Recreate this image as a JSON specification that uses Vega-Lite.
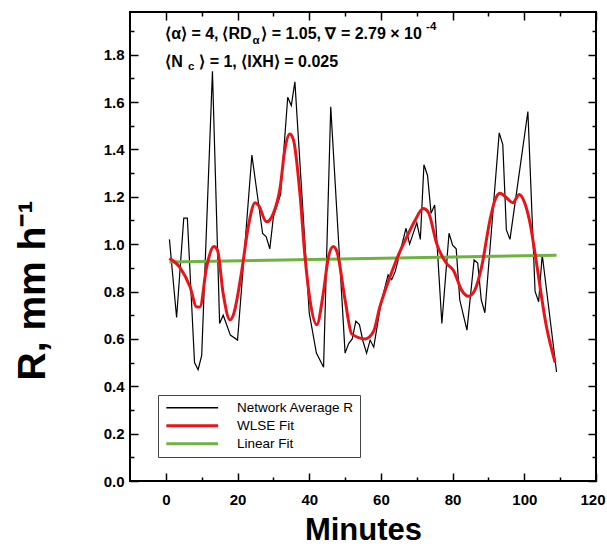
{
 "$schema": "https://vega.github.io/schema/vega-lite/v6.json",
 "width": 466, "height": 469,
 "autosize": {"type": "none"},
 "padding": {"left": 130, "top": 12, "right": 11, "bottom": 65},
 "background": "white",
 "config": {"view": {"stroke": "black", "strokeWidth": 2}, "font": "Liberation Sans"},
 "datasets": {
  "avg": [
   {"t":1,"v":1.02},{"t":3,"v":0.69},{"t":5,"v":1.11},{"t":6,"v":1.11},{"t":8,"v":0.50},{"t":9,"v":0.47},{"t":10,"v":0.53},
   {"t":13,"v":1.73},{"t":15,"v":0.665},{"t":16,"v":0.70},{"t":18,"v":0.616},{"t":20,"v":0.595},{"t":24,"v":1.376},
   {"t":27,"v":1.045},{"t":28,"v":1.031},{"t":29,"v":0.98},{"t":30,"v":1.115},{"t":32,"v":1.21},{"t":34,"v":1.62},
   {"t":35,"v":1.585},{"t":36,"v":1.685},{"t":40,"v":0.71},{"t":42,"v":0.54},{"t":44,"v":0.48},{"t":46,"v":1.58},
   {"t":50,"v":0.54},{"t":51,"v":0.58},{"t":52,"v":0.60},{"t":53,"v":0.675},{"t":54,"v":0.66},{"t":55,"v":0.59},
   {"t":56,"v":0.54},{"t":57,"v":0.595},{"t":58,"v":0.565},{"t":60,"v":0.75},{"t":62,"v":0.87},{"t":63,"v":0.85},
   {"t":64,"v":0.885},{"t":67,"v":1.067},{"t":68,"v":1.00},{"t":70,"v":1.09},{"t":71,"v":1.02},{"t":72,"v":1.335},
   {"t":73,"v":1.29},{"t":74,"v":1.13},{"t":75,"v":1.165},{"t":77,"v":0.665},{"t":79,"v":1.046},{"t":80,"v":0.996},
   {"t":81,"v":0.98},{"t":82,"v":0.764},{"t":84,"v":0.637},{"t":86,"v":0.933},{"t":87,"v":0.92},{"t":88,"v":0.764},
   {"t":89,"v":0.71},{"t":93,"v":1.47},{"t":94,"v":1.42},{"t":95,"v":1.06},{"t":96,"v":1.02},{"t":101,"v":1.56},
   {"t":103,"v":0.80},{"t":104,"v":0.757},{"t":105,"v":0.955},{"t":109,"v":0.46}
  ],
  "wlse": [
   {"t":1,"v":0.94},{"t":4,"v":0.90},{"t":6.75,"v":0.82},{"t":8.6,"v":0.735},{"t":9.5,"v":0.735},{"t":11.4,"v":0.905},
   {"t":13.4,"v":0.99},{"t":14.4,"v":0.975},{"t":16,"v":0.79},{"t":17.9,"v":0.68},{"t":18.8,"v":0.70},{"t":21.2,"v":0.89},
   {"t":23,"v":1.074},{"t":24.9,"v":1.175},{"t":25.8,"v":1.165},{"t":28.1,"v":1.094},{"t":30,"v":1.13},{"t":31.9,"v":1.24},
   {"t":33.2,"v":1.40},{"t":34.6,"v":1.465},{"t":35.6,"v":1.44},{"t":37.4,"v":1.215},{"t":38.8,"v":0.95},{"t":40.2,"v":0.765},
   {"t":42.1,"v":0.66},{"t":43.9,"v":0.79},{"t":45.3,"v":0.94},{"t":46.7,"v":0.99},{"t":47.8,"v":0.965},{"t":50,"v":0.765},
   {"t":51.9,"v":0.62},{"t":55.6,"v":0.60},{"t":57.9,"v":0.63},{"t":59.7,"v":0.735},{"t":62.5,"v":0.86},{"t":64.9,"v":0.955},
   {"t":67.2,"v":1.03},{"t":69.5,"v":1.10},{"t":71.8,"v":1.15},{"t":73.2,"v":1.135},{"t":75.6,"v":1.00},{"t":78.4,"v":0.917},
   {"t":80.2,"v":0.89},{"t":82.5,"v":0.806},{"t":84.4,"v":0.78},{"t":86.2,"v":0.806},{"t":88.1,"v":0.905},{"t":90.4,"v":1.10},
   {"t":91.8,"v":1.185},{"t":93.2,"v":1.215},{"t":95.1,"v":1.195},{"t":96.8,"v":1.175},{"t":98.6,"v":1.21},{"t":100.2,"v":1.17},
   {"t":101.6,"v":1.088},{"t":103,"v":0.96},{"t":106.2,"v":0.65},{"t":108.6,"v":0.50}
  ],
  "lin": [{"t":1,"v":0.925},{"t":109,"v":0.953}],
  "ann": [
   {"x":-0.2,"y":1.866,"label":"⟨α⟩ = 4,"},
   {"x":15.8,"y":1.866,"label":"⟨RD"},
   {"x":26.6,"y":1.866,"label":"⟩ = 1.05, ∇ = 2.79 × 10"},
   {"x":-0.2,"y":1.748,"label":"⟨N"},
   {"x":9.3,"y":1.748,"label":"⟩ = 1, ⟨IXH⟩ = 0.025"}
  ],
  "annSmall": [
   {"x":24.2,"y":1.847,"label":"α"},
   {"x":72.6,"y":1.902,"label":"-4"},
   {"x":6.2,"y":1.735,"label":"c"}
  ]
 },
 "resolve": {"axis": {"x": "independent", "y": "independent"}},
 "layer": [
  {
   "data": {"name": "avg"},
   "mark": {"type": "line", "strokeWidth": 1.2},
   "encoding": {
    "x": {"field": "t", "type": "quantitative", "scale": {"domain": [-10, 120], "nice": false, "zero": false},
     "axis": {"orient": "bottom", "offset": -8, "values": [0,20,40,60,80,100,120], "tickSize": 8, "tickColor": "black", "tickWidth": 1.5,
      "domain": false, "grid": false, "labelFont": "Liberation Sans", "labelFontWeight": "bold", "labelFontSize": 15,
      "labelColor": "black", "labelPadding": 11, "labelFlush": false, "labelOverlap": false,
      "labelAlign": {"condition": {"test": "datum.value === 120", "value": "right"}, "value": "center"},
      "labelOffset": {"condition": {"test": "datum.value === 120", "value": 9}, "value": 0},
      "title": "Minutes",
      "titleFont": "Liberation Sans", "titleFontSize": 31, "titleFontWeight": "bold", "titleColor": "black", "titlePadding": 8}},
    "y": {"field": "v", "type": "quantitative", "scale": {"domain": [0, 1.98], "nice": false, "zero": false},
     "axis": {"orient": "left", "offset": -8, "values": [0,0.2,0.4,0.6,0.8,1.0,1.2,1.4,1.6,1.8], "format": ".1f", "tickSize": 8,
      "tickColor": "black", "tickWidth": 1.5, "domain": false, "grid": false, "labelFont": "Liberation Sans",
      "labelFontWeight": "bold", "labelFontSize": 15, "labelColor": "black", "labelPadding": 6, "labelFlush": false, "labelOverlap": false,
      "title": "R, mm h⁻¹", "titleFont": "Liberation Sans", "titleFontSize": 39, "titleFontWeight": "bold",
      "titleColor": "black", "titleX": -86, "titleY": 278}},
    "color": {"datum": "Network Average R", "type": "nominal",
     "scale": {"domain": ["Network Average R", "WLSE Fit", "Linear Fit"], "range": ["black", "#e8141a", "#6db33f"]},
     "legend": {"title": null, "orient": "none", "legendX": 28, "legendY": 383, "direction": "vertical",
      "strokeColor": "#444", "fillColor": "white", "padding": 6, "labelFont": "Liberation Sans", "labelFontSize": 13.5,
      "labelColor": "black", "symbolType": "M-3.7,0H3.7", "symbolSize": 196, "symbolStrokeWidth": 2.5,
      "symbolOffset": 21.5, "labelOffset": 38, "rowPadding": 3, "labelLimit": 300,
      "encode": {"symbols": {"update": {"strokeWidth": {"signal": "datum.value === 'Network Average R' ? 1.3 : 2.8"}}}}}}
   }
  },
  {
   "data": {"name": "lin"},
   "mark": {"type": "line", "strokeWidth": 3},
   "encoding": {
    "x": {"field": "t", "type": "quantitative", "scale": {"domain": [-10, 120], "nice": false, "zero": false},
     "axis": {"orient": "top", "offset": -8, "values": [0,20,40,60,80,100,120], "tickSize": 8, "tickColor": "black", "tickWidth": 1.5,
      "domain": false, "grid": false, "labels": false, "title": null}},
    "y": {"field": "v", "type": "quantitative", "scale": {"domain": [0, 1.98], "nice": false, "zero": false},
     "axis": {"orient": "right", "offset": -8, "values": [0,0.2,0.4,0.6,0.8,1.0,1.2,1.4,1.6,1.8], "tickSize": 8, "tickColor": "black",
      "tickWidth": 1.5, "domain": false, "grid": false, "labels": false, "title": null}},
    "color": {"datum": "Linear Fit", "type": "nominal"}
   }
  },
  {
   "data": {"name": "wlse"},
   "mark": {"type": "line", "strokeWidth": 3, "interpolate": "monotone"},
   "encoding": {
    "x": {"field": "t", "type": "quantitative", "scale": {"domain": [-10, 120], "nice": false, "zero": false},
     "axis": {"orient": "bottom", "offset": -4, "values": [10,30,50,70,90,110], "tickSize": 4, "tickColor": "black", "tickWidth": 1.5,
      "domain": false, "grid": false, "labels": false, "title": null}},
    "y": {"field": "v", "type": "quantitative", "scale": {"domain": [0, 1.98], "nice": false, "zero": false},
     "axis": {"orient": "left", "offset": -4, "values": [0.1,0.3,0.5,0.7,0.9,1.1,1.3,1.5,1.7,1.9], "tickSize": 4, "tickColor": "black",
      "tickWidth": 1.5, "domain": false, "grid": false, "labels": false, "title": null}},
    "color": {"datum": "WLSE Fit", "type": "nominal"}
   }
  },
  {
   "data": {"name": "ann"},
   "mark": {"type": "text", "align": "left", "baseline": "alphabetic", "font": "Liberation Sans", "fontWeight": "bold", "fontSize": 16, "color": "black"},
   "encoding": {
    "x": {"field": "x", "type": "quantitative", "scale": {"domain": [-10, 120], "nice": false, "zero": false},
     "axis": {"orient": "top", "offset": -4, "values": [10,30,50,70,90,110], "tickSize": 4, "tickColor": "black", "tickWidth": 1.5,
      "domain": false, "grid": false, "labels": false, "title": null}},
    "y": {"field": "y", "type": "quantitative", "scale": {"domain": [0, 1.98], "nice": false, "zero": false},
     "axis": {"orient": "right", "offset": -4, "values": [0.1,0.3,0.5,0.7,0.9,1.1,1.3,1.5,1.7,1.9], "tickSize": 4, "tickColor": "black",
      "tickWidth": 1.5, "domain": false, "grid": false, "labels": false, "title": null}},
    "text": {"field": "label"}
   }
  },
  {
   "data": {"name": "annSmall"},
   "mark": {"type": "text", "align": "left", "baseline": "alphabetic", "font": "Liberation Sans", "fontWeight": "bold", "fontSize": 11.5, "color": "black"},
   "encoding": {
    "x": {"field": "x", "type": "quantitative", "scale": {"domain": [-10, 120], "nice": false, "zero": false}, "axis": null},
    "y": {"field": "y", "type": "quantitative", "scale": {"domain": [0, 1.98], "nice": false, "zero": false}, "axis": null},
    "text": {"field": "label"}
   }
  }
 ]
}
